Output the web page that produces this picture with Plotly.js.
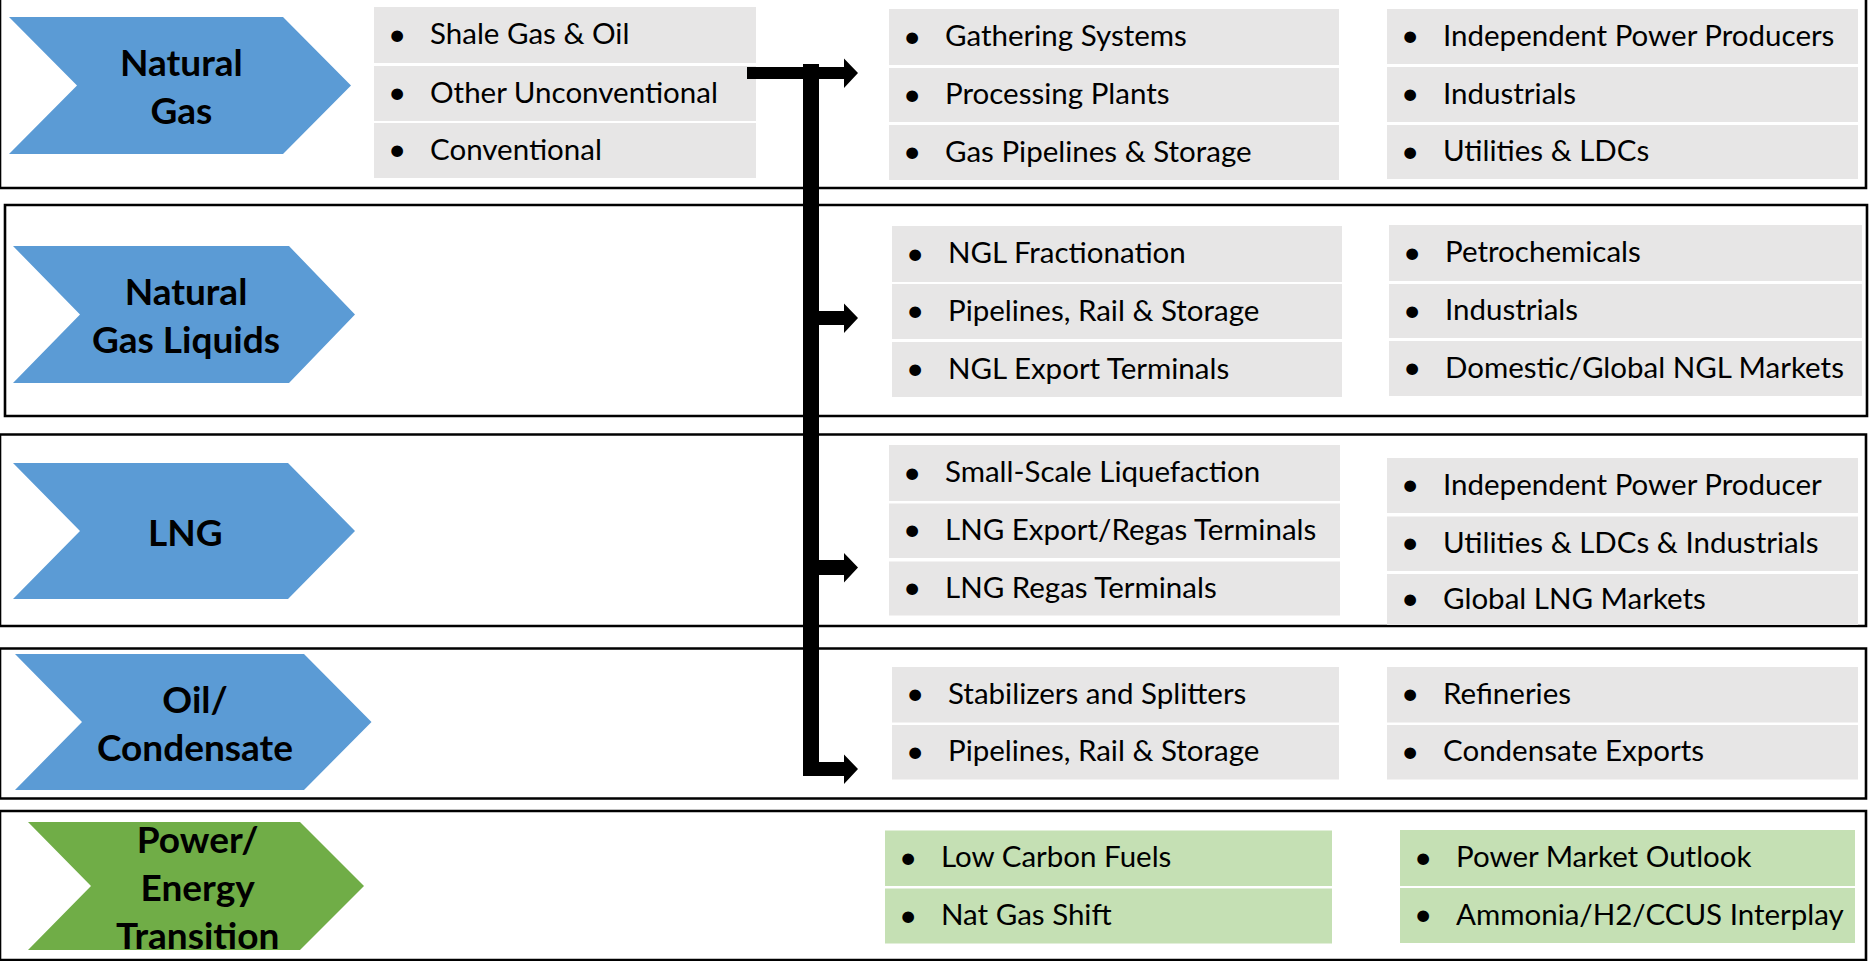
<!DOCTYPE html>
<html>
<head>
<meta charset="utf-8">
<script src="https://cdn.plot.ly/plotly-3.0.1.min.js"></script>
<style>html,body{margin:0;padding:0;background:#fff;}#chart{width:1870px;height:961px;}</style>
</head>
<body>
<div id="chart"></div>
<script>
// ---- content ----
const categories = ["Natural<br>Gas", "Natural<br>Gas Liquids", "LNG", "Oil/<br>Condensate", "Power/<br>Energy<br>Transition"];
const upstreamItems = ["Shale Gas & Oil", "Other Unconventional", "Conventional"];
const midstreamItems = [
  ["Gathering Systems", "Processing Plants", "Gas Pipelines & Storage"],
  ["NGL Fractionation", "Pipelines, Rail & Storage", "NGL Export Terminals"],
  ["Small-Scale Liquefaction", "LNG Export/Regas Terminals", "LNG Regas Terminals"],
  ["Stabilizers and Splitters", "Pipelines, Rail & Storage"],
  ["Low Carbon Fuels", "Nat Gas Shift"]
];
const marketItems = [
  ["Independent Power Producers", "Industrials", "Utilities & LDCs"],
  ["Petrochemicals", "Industrials", "Domestic/Global NGL Markets"],
  ["Independent Power Producer", "Utilities & LDCs & Industrials", "Global LNG Markets"],
  ["Refineries", "Condensate Exports"],
  ["Power Market Outlook", "Ammonia/H2/CCUS Interplay"]
];

// ---- layout geometry (pixels) ----
const rowBox = [[0, -3, 1866, 188], [5, 205, 1867, 416], [0, 434.5, 1866, 626], [0, 648.5, 1866, 798.5], [0, 811, 1866, 960]];
const chevX = [[9, 77, 283, 351], [13, 80, 289, 355], [13, 80, 288, 355], [15, 82, 304, 371.5], [28, 91, 300, 364]];
const chevY = [[17, 154], [246, 383], [463, 599], [654, 790], [822, 950]];
const upCol = [374, 756];
const upRows = [[7, 63], [66, 121], [123, 178]];
const midCol = [[889, 1339], [892, 1342], [889, 1340], [892, 1339], [885, 1332]];
const midRows = [
  [[9, 65], [68, 122], [125, 180]],
  [[226, 282], [284, 339], [342, 397]],
  [[445, 501], [503.5, 558], [561.5, 615.5]],
  [[667, 722.5], [725, 779.5]],
  [[830.5, 886], [888.5, 943.5]]
];
const mktCol = [[1387, 1858], [1389, 1862], [1387, 1858], [1387, 1858], [1400, 1855]];
const mktRows = [
  [[9, 64], [67, 122], [125, 179]],
  [[225, 281], [284, 338], [341, 396]],
  [[458, 513], [516.5, 571], [574, 625]],
  [[667, 722.5], [725, 779.5]],
  [[830, 886], [888, 943]]
];
const arrowY = [73, 318, 567.5, 769];
const arrowThick = [12, 14, 15, 14];

const BLUE = "#5B9BD5", GREEN = "#70AD47", GRAY = "#E7E6E6", LGREEN = "#C5E0B4";
const FONT = "Lato, 'Open Sans', sans-serif";
const ITEM_SIZE = 29.5;

const shapes = [];
const annotations = [];

function rect(x0, y0, x1, y1, fill, line) {
  shapes.push({type: "rect", xref: "x", yref: "y", x0, y0, x1, y1,
    fillcolor: fill || "rgba(0,0,0,0)",
    line: line || {width: 0}, layer: "above"});
}
function path(d, fill) {
  shapes.push({type: "path", xref: "x", yref: "y", path: d, fillcolor: fill, line: {width: 0}, layer: "above"});
}
function itemBoxes(col, rows, items, fill) {
  items.forEach((t, i) => {
    const r = rows[i];
    rect(col[0], r[0], col[1], r[1], fill);
    const yc = (r[0] + r[1]) / 2 - 2.5;
    annotations.push({x: col[0] + 23, y: yc, xref: "x", yref: "y", text: "•", showarrow: false,
      xanchor: "center", yanchor: "middle", font: {family: FONT, size: ITEM_SIZE + 2, color: "#000"}});
    annotations.push({x: col[0] + 54, y: yc, xref: "x", yref: "y", text: t, showarrow: false,
      xanchor: "left", yanchor: "middle", font: {family: FONT, size: ITEM_SIZE, color: "#000"}});
  });
}

categories.forEach((cat, k) => {
  const b = rowBox[k];
  rect(b[0], b[1], b[2], b[3], null, {color: "#000", width: 2.6});
  const cx = chevX[k], cy = chevY[k];
  const ym = (cy[0] + cy[1]) / 2;
  const fill = k === 4 ? GREEN : BLUE;
  path(`M ${cx[0]} ${cy[0]} L ${cx[2]} ${cy[0]} L ${cx[3]} ${ym} L ${cx[2]} ${cy[1]} L ${cx[0]} ${cy[1]} L ${cx[1]} ${ym} Z`, fill);
  annotations.push({x: (cx[1] + cx[2]) / 2 + 1.5, y: ym, xref: "x", yref: "y", text: "<b>" + cat + "</b>",
    showarrow: false, xanchor: "center", yanchor: "middle", align: "center",
    font: {family: FONT, size: 37, color: "#000"}});
  const boxFill = k === 4 ? LGREEN : GRAY;
  itemBoxes(midCol[k], midRows[k], midstreamItems[k], boxFill);
  itemBoxes(mktCol[k], mktRows[k], marketItems[k], boxFill);
});
itemBoxes(upCol, upRows, upstreamItems, GRAY);

// connector arrows
const vx0 = 803, vx1 = 819, headBase = 844, tip = 858;
path(`M ${vx0} 64 L ${vx1} 64 L ${vx1} ${arrowY[3] + arrowThick[3] / 2} L ${vx0} ${arrowY[3] + arrowThick[3] / 2} Z`, "#000");
arrowY.forEach((y, i) => {
  const h = arrowThick[i] / 2;
  const startX = i === 0 ? 747 : vx0;
  path(`M ${startX} ${y - h} L ${headBase} ${y - h} L ${headBase} ${y - 14.5} L ${tip} ${y} L ${headBase} ${y + 15} L ${headBase} ${y + h} L ${startX} ${y + h} Z`, "#000");
});

const layout = {
  width: 1870, height: 961,
  margin: {l: 0, r: 0, t: 0, b: 0},
  paper_bgcolor: "#fff", plot_bgcolor: "#fff",
  xaxis: {range: [0, 1870], visible: false, fixedrange: true},
  yaxis: {range: [961, 0], visible: false, fixedrange: true},
  showlegend: false,
  shapes, annotations
};
Plotly.newPlot("chart", [{x: [], y: [], type: "scatter", hoverinfo: "skip"}], layout, {staticPlot: true, displayModeBar: false});
</script>
</body>
</html>
